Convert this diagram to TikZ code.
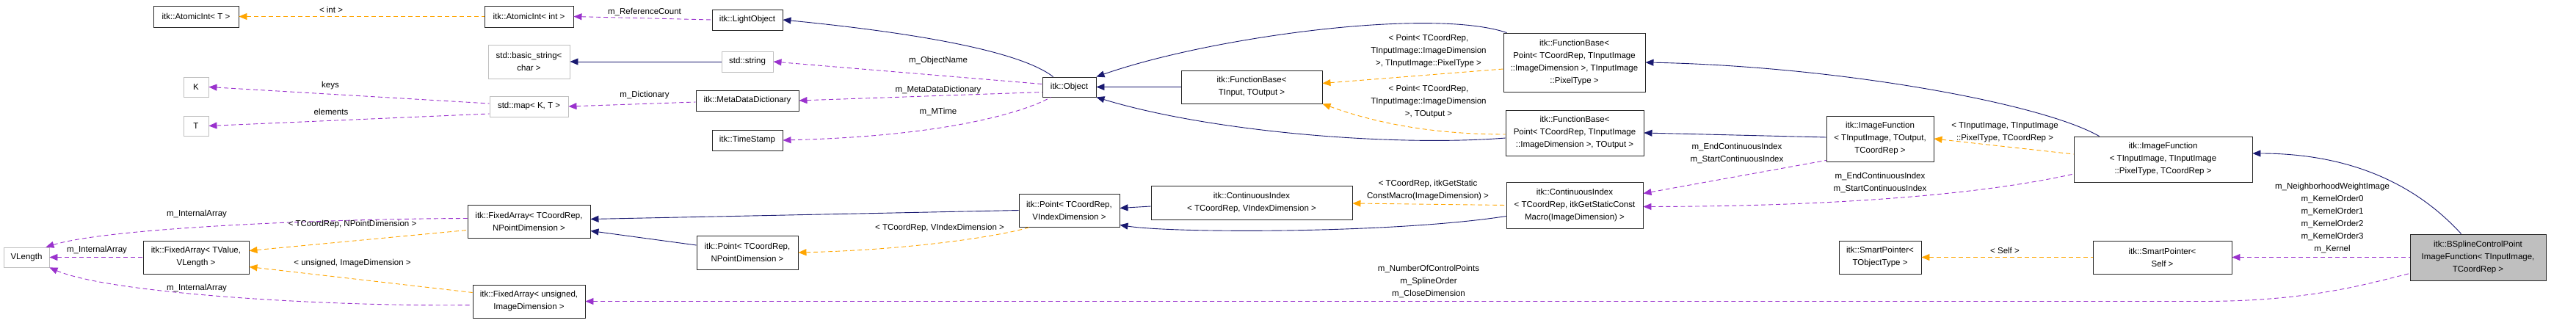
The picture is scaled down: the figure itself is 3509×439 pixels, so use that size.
\documentclass[tikz,border=0pt]{standalone}
\usepackage{fontspec}
\setmainfont{Liberation Sans}
\usetikzlibrary{arrows.meta,calc}
\definecolor{nav}{HTML}{191970}
\definecolor{prp}{HTML}{9A32CD}
\definecolor{org}{HTML}{FFA500}
\definecolor{gbd}{HTML}{BFBFBF}
\begin{document}
\begin{tikzpicture}[x=1pt,y=-1pt,
  font=\fontsize{11.5}{17}\selectfont,
  box/.style={draw=black!85,line width=0.9pt,inner sep=1pt,align=center,fill=white},
  ext/.style={box,draw=gbd},
  lbl/.style={inner sep=0pt,align=center},
  tip/.style={{Triangle[length=11pt,width=9pt]}-},
  nav/.style={draw=nav,line width=0.9pt,tip},
  prp/.style={draw=prp,line width=0.9pt,dash pattern=on 6pt off 4pt,tip},
  org/.style={draw=org,line width=0.9pt,dash pattern=on 6pt off 4pt,tip}]
\useasboundingbox (0,0) rectangle (3509,439);
\newcommand{\bx}[6][box]{\node[#1,minimum width=#4,minimum height=#5] (#2) at #3 {#6};}
\bx{atT}{(267,22.5)}{116}{29}{itk::AtomicInt< T >}
\bx{atInt}{(720.5,22.5)}{121}{29}{itk::AtomicInt< int >}
\bx{light}{(1018,27)}{96}{28}{itk::LightObject}
\bx[ext]{bstr}{(720.5,84)}{111}{46}{std::basic\_string<\\char >}
\bx[ext]{str}{(1018,84)}{70}{28}{std::string}
\bx[ext]{K}{(267,118.5)}{34}{27}{K}
\bx[ext]{T}{(267,171.5)}{34}{27}{T}
\bx[ext]{map}{(720.5,145)}{107}{28}{std::map< K, T >}
\bx{mdd}{(1018,137)}{140}{28}{itk::MetaDataDictionary}
\bx{ts}{(1018,191)}{96}{28}{itk::TimeStamp}
\bx{obj}{(1456.5,118.5)}{73}{27}{itk::Object}
\bx{fbIO}{(1705,118.5)}{192}{45}{itk::FunctionBase<\\TInput, TOutput >}
\bx{fbPix}{(2144.5,85)}{193}{80}{itk::FunctionBase<\\Point< TCoordRep, TInputImage\\::ImageDimension >, TInputImage\\::PixelType >}
\bx{fbOut}{(2145,181)}{188}{62}{itk::FunctionBase<\\Point< TCoordRep, TInputImage\\::ImageDimension >, TOutput >}
\bx{ifOut}{(2561,189)}{146}{62}{itk::ImageFunction\\< TInputImage, TOutput,\\TCoordRep >}
\bx{ifPix}{(2946.5,217)}{243}{62}{itk::ImageFunction\\< TInputImage, TInputImage\\::PixelType, TCoordRep >}
\bx{ciItk}{(2145,279.5)}{186}{63}{itk::ContinuousIndex\\< TCoordRep, itkGetStaticConst\\Macro(ImageDimension) >}
\bx{ciV}{(1705,276)}{274}{46}{itk::ContinuousIndex\\< TCoordRep, VIndexDimension >}
\bx{ptV}{(1456.5,286.5)}{137}{45}{itk::Point< TCoordRep,\\VIndexDimension >}
\bx{faC}{(720.5,301.5)}{167}{45}{itk::FixedArray< TCoordRep,\\NPointDimension >}
\bx{ptN}{(1018,344)}{138}{46}{itk::Point< TCoordRep,\\NPointDimension >}
\bx{faV}{(267,350.5)}{144}{45}{itk::FixedArray< TValue,\\VLength >}
\bx[ext]{VL}{(36,350.5)}{62}{27}{VLength}
\bx{faU}{(720.5,410.5)}{153}{45}{itk::FixedArray< unsigned,\\ImageDimension >}
\bx{spT}{(2561,350.5)}{112}{45}{itk::SmartPointer<\\TObjectType >}
\bx{spS}{(2945.5,350.5)}{189}{45}{itk::SmartPointer<\\Self >}
\bx[box,fill=black!25]{bs}{(3375.5,350.5)}{185}{63}{itk::BSplineControlPoint\\ImageFunction< TInputImage,\\TCoordRep >}
% edges
\draw[org] (atT.east) -- (atInt.west);
\node[lbl] (l1) at (451,13) {< int >};
\draw[prp] (atInt.east) -- (light.west);
\node[lbl] (l2) at (878,16) {m\_ReferenceCount};
\draw[nav] (light.east) .. controls (1250,45) and (1390,70) .. ($(obj.north west)+(15,0)$);
\draw[nav] (bstr.east) -- (str.west);
\draw[prp] (str.east) -- ($(obj.west)+(0,-4)$);
\node[lbl] (l5) at (1278,83) {m\_ObjectName};
\draw[prp] (K.east) -- ($(map.west)+(0,-4)$);
\node[lbl] (l6) at (450,117) {keys};
\draw[prp] (T.east) -- ($(map.west)+(0,10)$);
\node[lbl] (l7) at (451,152) {elements};
\draw[prp] (map.east) -- ($(mdd.west)+(0,2)$);
\node[lbl] (l8) at (878,130) {m\_Dictionary};
\draw[prp] (mdd.east) -- ($(obj.west)+(0,7)$);
\node[lbl] (l9) at (1278,123) {m\_MetaDataDictionary};
\draw[prp] (ts.east) .. controls (1300,185) and (1400,150) .. ($(obj.south west)+(12,0)$);
\node[lbl] (l10) at (1278,152) {m\_MTime};
\draw[nav] (obj.east) -- (fbIO.west);
\draw[nav] (obj.north east) .. controls (1650,50) and (1950,10) .. ($(fbPix.north west)+(5,0)$);
\draw[nav] (obj.south east) .. controls (1650,180) and (1900,200) .. ($(fbOut.west)+(0,7)$);
\draw[org] ($(fbIO.east)+(0,-5)$) -- ($(fbPix.west)+(0,9)$);
\node[lbl] (l14) at (1946,70) {< Point< TCoordRep,\\TInputImage::ImageDimension\\>, TInputImage::PixelType >};
\draw[org] (fbIO.south east) .. controls (1880,170) and (1960,183) .. ($(fbOut.west)+(0,2)$);
\node[lbl] (l15) at (1946,139) {< Point< TCoordRep,\\TInputImage::ImageDimension\\>, TOutput >};
\draw[nav] (fbOut.east) -- ($(ifOut.west)+(0,-2)$);
\draw[nav] (fbPix.east) .. controls (2500,90) and (2780,140) .. ($(ifPix.north west)+(35,0)$);
\draw[org] (ifOut.east) -- ($(ifPix.west)+(0,-7)$);
\node[lbl] (l18) at (2731,180) {< TInputImage, TInputImage\\::PixelType, TCoordRep >};
\draw[prp] ($(ciItk.east)+(0,-16)$) -- ($(ifOut.south west)+(0,-2)$);
\node[lbl] (l19) at (2366,209) {m\_EndContinuousIndex\\m\_StartContinuousIndex};
\draw[prp] ($(ciItk.east)+(0,2)$) .. controls (2500,281) and (2700,265) .. ($(ifPix.west)+(0,20)$);
\node[lbl] (l20) at (2561,249) {m\_EndContinuousIndex\\m\_StartContinuousIndex};
\draw[org] ($(ciV.east)+(0,1)$) -- (ciItk.west);
\node[lbl] (l21) at (1945,259) {< TCoordRep, itkGetStatic\\ConstMacro(ImageDimension) >};
\draw[nav] ($(ptV.south east)+(0,-3)$) .. controls (1600,318) and (1900,318) .. ($(ciItk.west)+(0,15)$);
\draw[nav] ($(ptV.east)+(0,-3)$) -- ($(ciV.west)+(0,5)$);
\draw[nav] ($(faC.east)+(0,-3)$) -- (ptV.west);
\draw[nav] ($(faC.east)+(0,13)$) -- ($(ptN.west)+(0,-10)$);
\draw[org] (ptN.east) .. controls (1250,340) and (1370,320) .. ($(ptV.south west)+(15,0)$);
\node[lbl] (l26) at (1280,311) {< TCoordRep, VIndexDimension >};
\draw[prp] ($(VL.north east)+(-5,0)$) .. controls (150,310) and (450,298) .. ($(faC.west)+(0,-4)$);
\node[lbl] (l27) at (268,292) {m\_InternalArray};
\draw[prp] (VL.east) -- (faV.west);
\node[lbl] (l28) at (132,341) {m\_InternalArray};
\draw[prp] (VL.south east) .. controls (150,400) and (450,418) .. ($(faU.west)+(0,5)$);
\node[lbl] (l29) at (268,393) {m\_InternalArray};
\draw[org] ($(faV.east)+(0,-9)$) -- ($(faC.west)+(0,12)$);
\node[lbl] (l30) at (480,306) {< TCoordRep, NPointDimension >};
\draw[org] ($(faV.east)+(0,13)$) -- ($(faU.west)+(0,-12)$);
\node[lbl] (l31) at (480,359) {< unsigned, ImageDimension >};
\draw[prp] (faU.east) -- (3000,410.5) .. controls (3150,410.5) and (3230,385) .. ($(bs.west)+(0,22)$);
\node[lbl] (l32) at (1946,383) {m\_NumberOfControlPoints\\m\_SplineOrder\\m\_CloseDimension};
\draw[prp] (spS.east) -- (bs.west);
\node[lbl] (l33) at (3177,297) {m\_NeighborhoodWeightImage\\m\_KernelOrder0\\m\_KernelOrder1\\m\_KernelOrder2\\m\_KernelOrder3\\m\_Kernel};
\draw[org] (spT.east) -- (spS.west);
\node[lbl] (l34) at (2731,341) {< Self >};
\draw[nav] ($(ifPix.east)+(0,-8)$) .. controls (3200,209) and (3290,250) .. ($(bs.north west)+(70,0)$);
\end{tikzpicture}
\end{document}
